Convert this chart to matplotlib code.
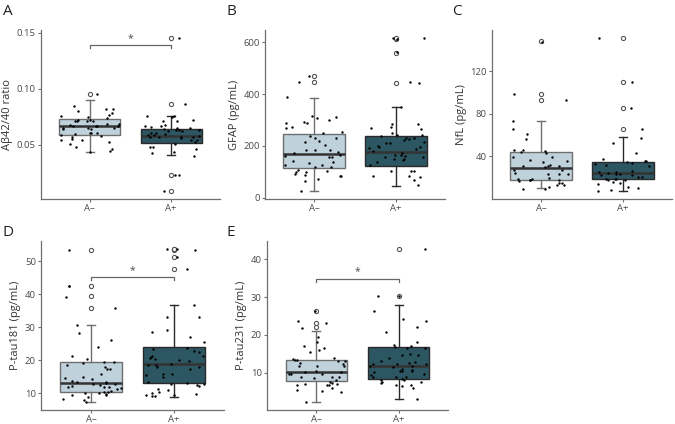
import numpy as np
import matplotlib
matplotlib.use("Agg")
import matplotlib.pyplot as plt

plt.rcParams['font.family'] = ['Open Sans', 'DejaVu Sans']

groups = ["A\u2013", "A+"]
panel_letters = ["A", "B", "C", "D", "E"]
ylabels = ["A\u03b242/40 ratio", "GFAP (pg/mL)", "NfL (pg/mL)", "P-tau181 (pg/mL)", "P-tau231 (pg/mL)"]
yticks = [[0.05, 0.10, 0.15], [0, 200, 400, 600], [40, 80, 120], [10, 20, 30, 40, 50], [10, 20, 30, 40]]
ytick_labels = [["0.05", "0.10", "0.15"], ["0", "200", "400", "600"], ["40", "80", "120"],
                ["10", "20", "30", "40", "50"], ["10", "20", "30", "40"]]

# box stats: [whislo, q1, median, q3, whishi]
abeta_box_neg = [0.044, 0.059, 0.0673, 0.0731, 0.0904]
abeta_box_pos = [0.0408, 0.0515, 0.058, 0.064, 0.076]
abeta_out_neg = [0.0955]
abeta_out_pos = [0.0865, 0.1454, 0.0236, 0.0087]
abeta_pts_neg = [0.0955, 0.082, 0.082, 0.0844, 0.080, 0.078, 0.076, 0.077, 0.074, 0.075, 0.072, 0.071,
                 0.071, 0.071, 0.072, 0.071, 0.069, 0.0686, 0.067, 0.067, 0.067, 0.068, 0.067, 0.065,
                 0.064, 0.064, 0.0655, 0.065, 0.061, 0.0605, 0.061, 0.060, 0.0587, 0.0575, 0.058,
                 0.0554, 0.0545, 0.054, 0.053, 0.0506, 0.0485, 0.046, 0.0434, 0.0446]
abeta_pts_pos = [0.1455, 0.0865, 0.076, 0.076, 0.075, 0.0725, 0.0715, 0.071, 0.067, 0.0677, 0.0665,
                 0.066, 0.0653, 0.064, 0.0635, 0.0635, 0.065, 0.0635, 0.062, 0.061, 0.062, 0.0605,
                 0.0596, 0.059, 0.058, 0.059, 0.057, 0.057, 0.057, 0.0566, 0.0575, 0.0545, 0.0545,
                 0.053, 0.051, 0.0485, 0.0485, 0.0467, 0.044, 0.043, 0.0404, 0.0233, 0.0236, 0.0087]

gfap_box_neg = [24, 115, 168, 245, 386]
gfap_box_pos = [43, 120, 175, 238, 349]
gfap_out_neg = [447, 469]
gfap_out_pos = [443, 560, 612, 617]
gfap_pts_neg = [468, 445, 387, 313, 316, 306, 293, 298, 289, 289, 270, 273, 255, 251, 238, 232, 229,
                213, 219, 204, 183, 183, 183, 176, 173, 166, 162, 155, 155, 143, 134, 136, 126, 127,
                117, 117, 104, 107, 98, 98, 92, 89, 82, 73, 64, 25, 85]
gfap_pts_pos = [618, 616, 611, 561, 443, 445, 349, 283, 283, 273, 264, 268, 248, 241, 241, 238, 229,
                232, 225, 222, 213, 209, 209, 200, 191, 197, 196, 187, 181, 171, 166, 166, 162, 155,
                155, 150, 145, 149, 136, 127, 104, 102, 102, 82, 82, 79, 69, 47]

nfl_box_neg = [10, 18, 29.1, 43.7, 72.9]
nfl_box_pos = [7.1, 18.3, 24.5, 35, 58]
nfl_out_neg = [92.7, 98.9, 148.2]
nfl_out_pos = [65.4, 85.6, 110, 151.6]
nfl_pts_neg = [148, 92.7, 98.9, 72.9, 66, 61, 56.7, 45.6, 45.3, 45.6, 42.8, 43.7, 39, 39.4, 36.9, 36,
               34.4, 30.7, 32, 31.3, 31.3, 29.8, 27.3, 23.6, 23.6, 26.7, 24.2, 18.9, 17.4, 18.9, 19.5,
               18, 17.4, 14.9, 14.9, 16.4, 12.7, 12.7, 9, 9.6, 11.2, 23.6]
nfl_pts_pos = [151.6, 110, 85.6, 65.4, 57.7, 53, 42.8, 36, 36, 37.5, 32.9, 33.8, 32, 35, 30.7, 25.1,
               24.2, 23.6, 26, 25.1, 23.6, 22, 22.6, 20.5, 18.9, 18.3, 18, 18.9, 17.4, 15.8, 15.2,
               14.3, 10.2, 11.2, 8.7, 7.1, 20.5]

ptau181_box_neg = [7.3, 10.2, 13.1, 19.4, 30.5]
ptau181_box_pos = [8.7, 13.1, 18.7, 23.9, 36.8]
ptau181_out_neg = [35.9, 39.3, 42.5, 53.4]
ptau181_out_pos = [47.7, 51.3, 53.4, 53.8, 53.7]
ptau181_pts_neg = [53.4, 42.4, 42.5, 39.2, 35.8, 30.5, 28.1, 26.2, 23.9, 21.1, 20.3, 19.4, 19.2, 19.3,
                   18.4, 17.9, 17.3, 17.2, 15.7, 14.9, 14.6, 14.4, 13.4, 13.7, 13.4, 12.9, 13.1, 12.7,
                   11.9, 12.1, 11.9, 12.4, 11.7, 11.4, 11.1, 10.7, 10.4, 9.9, 9.9, 9.4, 9.4, 9.6,
                   10.4, 8.9, 7.9, 7.2, 8.3]
ptau181_pts_pos = [53.4, 53.8, 53.7, 51.3, 47.7, 29.2, 36.8, 33, 33.2, 28.5, 26.9, 25.4, 23.4, 23.7,
                   22.7, 22.4, 21.2, 20.7, 21.4, 20.9, 20.4, 19.9, 18.9, 19.7, 18.4, 17.9, 17.9, 17.4,
                   18.4, 15.9, 15.4, 15.7, 14.9, 13.1, 12.9, 13.4, 12.9, 12.4, 12.1, 10.4, 10.9, 11.1,
                   9.9, 9.4, 9.4, 9.1, 9.2, 9.6]

ptau231_box_neg = [2.2, 7.8, 10.1, 13.3, 21.0]
ptau231_box_pos = [3.2, 8.4, 11.9, 16.9, 27.9]
ptau231_out_neg = [22.0, 23.1, 26.2]
ptau231_out_pos = [30.4, 42.8]
ptau231_pts_neg = [26.2, 23.8, 23.1, 21.8, 19.4, 17, 18.1, 16.6, 16, 15.4, 13.9, 13.2, 13.4, 13.5, 13.7,
                   13.1, 12.4, 12.5, 11.7, 11.9, 11.7, 10.4, 10.2, 9.6, 10.2, 9.7, 9.7, 8.9, 8.7, 8.9,
                   9, 8.2, 7.3, 6.8, 7.1, 6.8, 7.5, 7.1, 6.8, 6, 5.5, 4.9, 5.2, 2.3]
ptau231_pts_pos = [42.8, 30.4, 30.4, 26.2, 23.6, 24.2, 22.1, 20.7, 18.1, 17.2, 16.6, 16.5, 16.8, 17.4,
                   15, 14.7, 13.9, 12.6, 13.1, 14.7, 12.8, 12.4, 11.9, 11.9, 12.2, 12.2, 11.5, 10.6,
                   10.6, 10.8, 10.2, 10.6, 11, 9.6, 9.3, 8.9, 9, 8.4, 8.9, 8, 7.5, 8, 7.5, 7.3, 6.7,
                   6.1, 6.7, 6.4, 3.2]

boxes = [(abeta_box_neg, abeta_box_pos), (gfap_box_neg, gfap_box_pos), (nfl_box_neg, nfl_box_pos),
         (ptau181_box_neg, ptau181_box_pos), (ptau231_box_neg, ptau231_box_pos)]
outs = [(abeta_out_neg, abeta_out_pos), (gfap_out_neg, gfap_out_pos), (nfl_out_neg, nfl_out_pos),
        (ptau181_out_neg, ptau181_out_pos), (ptau231_out_neg, ptau231_out_pos)]
pts = [(abeta_pts_neg, abeta_pts_pos), (gfap_pts_neg, gfap_pts_pos), (nfl_pts_neg, nfl_pts_pos),
       (ptau181_pts_neg, ptau181_pts_pos), (ptau231_pts_neg, ptau231_pts_pos)]
# significance bracket heights (None = not significant)
sig_heights = [0.139, None, None, 45.2, 34.9]

W, H = 675, 424
fig = plt.figure(figsize=(W / 100, H / 100), dpi=100)

def rect(l, r, t, b):
    return [l / W, 1 - b / H, (r - l) / W, (b - t) / H]

rects = [rect(41, 220, 30, 199), rect(265, 445, 30, 199), rect(492, 672, 30, 199),
         rect(41, 224, 241, 410), rect(267, 448, 241, 410)]
letter_pos = [(3, 4), (227, 4), (452, 4), (3, 225), (227, 225)]

fills = ["#bfd2dc", "#2d5663"]
edges = ["#6e6e6e", "#2a2a2a"]
axis_col = "#6f6f6f"
text_col = "#4a4a4a"

rng = np.random.default_rng(7)

for i in range(5):
    ax = fig.add_axes(rects[i])
    for g in range(2):
        s = boxes[i][g]
        stats = [dict(whislo=s[0], q1=s[1], med=s[2], q3=s[3], whishi=s[4], fliers=outs[i][g])]
        ax.bxp(stats, positions=[g + 1], widths=0.75, capwidths=0.1, patch_artist=True,
               boxprops=dict(facecolor=fills[g], edgecolor=edges[g], linewidth=1.0),
               medianprops=dict(color="#333333", linewidth=1.8),
               whiskerprops=dict(color=edges[g], linewidth=1.0),
               capprops=dict(color=edges[g], linewidth=1.0),
               flierprops=dict(marker='o', markerfacecolor='white', markeredgecolor='#555555',
                               markersize=3.0, markeredgewidth=0.8))
        vals = np.array(pts[i][g], dtype=float)
        xj = (g + 1) + rng.uniform(-0.36, 0.36, size=len(vals))
        ax.scatter(xj, vals, s=3.0, color='black', zorder=5, linewidths=0)

    allv = [v for g in range(2) for v in list(pts[i][g]) + list(outs[i][g]) + list(boxes[i][g])]
    lo, hi = min(allv), max(allv)
    if sig_heights[i] is not None:
        hi = max(hi, sig_heights[i])
    pad = 0.05 * (hi - lo)
    ax.set_ylim(lo - pad, hi + pad)
    ax.set_xlim(0.4, 2.6)

    if sig_heights[i] is not None:
        h = sig_heights[i]
        d = 0.02 * (hi - lo)
        ax.plot([1, 1, 2, 2], [h - d, h, h, h - d], color="#666666", lw=0.9)
        ax.text(1.5, h + 0.008 * (hi - lo), "*", ha='center', va='bottom', fontsize=7.5, color=text_col)

    ax.set_xticks([1, 2])
    ax.set_xticklabels(groups)
    ax.set_yticks(yticks[i])
    ax.set_yticklabels(ytick_labels[i])
    for sp in ['top', 'right']:
        ax.spines[sp].set_visible(False)
    for sp in ['left', 'bottom']:
        ax.spines[sp].set_color(axis_col)
        ax.spines[sp].set_linewidth(0.9)
    ax.tick_params(colors=axis_col, labelcolor=text_col, labelsize=6.8, length=2.2, width=0.8, pad=1.5)
    ax.set_ylabel(ylabels[i], fontsize=8, color="#333333", labelpad=2.5)
    ax.set_facecolor('white')

    fig.text(letter_pos[i][0] / W, 1 - letter_pos[i][1] / H, panel_letters[i], fontsize=11,
             color="#222222", ha='left', va='top')

fig.savefig("out.png", dpi=100, facecolor='white')
